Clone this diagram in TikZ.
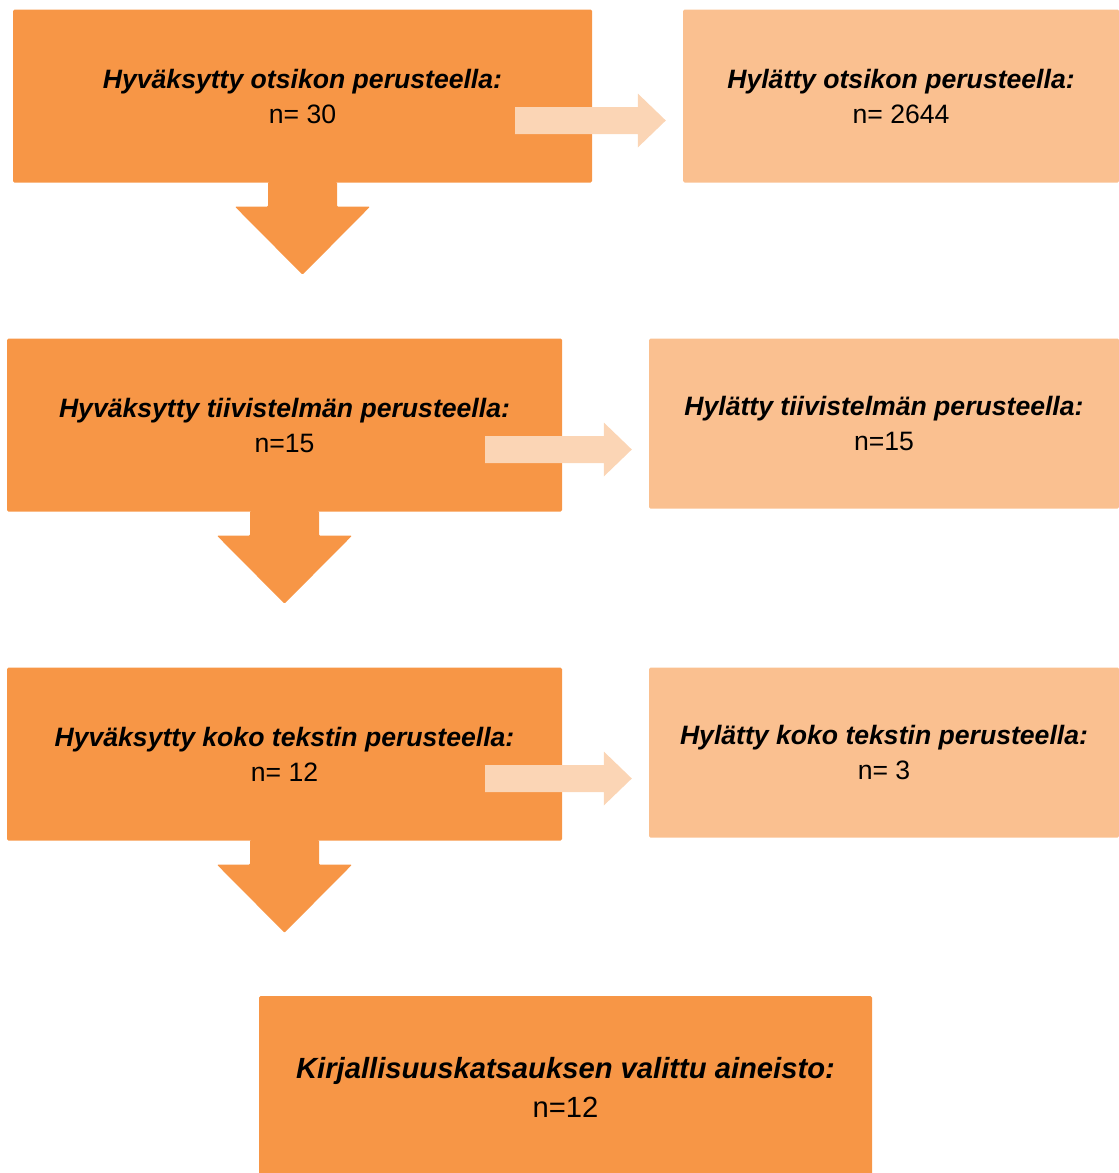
\documentclass[tikz,border=0pt]{standalone}
\usepackage{fontspec}
\setmainfont{Liberation Sans}
\usetikzlibrary{calc}
\definecolor{darkor}{HTML}{F79646}
\definecolor{lightor}{HTML}{FAC090}
\definecolor{paleor}{HTML}{FBD5B5}
\tikzset{
  box/.style={fill=darkor, rounded corners=1.5pt, inner sep=0pt, align=center,
    font=\fontsize{26.6}{35}\selectfont},
  rbox/.style={box, fill=lightor},
  finbox/.style={box, font=\fontsize{29.2}{39}\selectfont},
  downblk/.style={fill=darkor, rounded corners=1pt},
  sideblk/.style={fill=paleor},
}
\newcommand\downblock[1]{%
  \coordinate (s#1) at (#1.south);
  \fill[downblk] ($(s#1)+(-34.5,0.5)$) -- ($(s#1)+(-34.5,-24)$) -- ($(s#1)+(-67.5,-24)$)
    -- ($(s#1)+(0,-92)$) -- ($(s#1)+(67.5,-24)$) -- ($(s#1)+(34.5,-24)$)
    -- ($(s#1)+(34.5,0.5)$) -- cycle;}
\newcommand\sidearrow[2]{%
  \coordinate (a#1) at ($(#1.east)+(-77,-24.5)$);
  \coordinate (b#1) at ($(#2.west |- a#1)+(-17,0)$);
  \fill[sideblk] ($(a#1)+(0,13.5)$) -- ($(b#1)+(-28,13.5)$) -- ($(b#1)+(-28,27)$)
    -- (b#1) -- ($(b#1)+(-28,-27)$) -- ($(b#1)+(-28,-13.5)$)
    -- ($(a#1)+(0,-13.5)$) -- cycle;}
\begin{document}
\begin{tikzpicture}[x=1pt,y=1pt]
\useasboundingbox (0,0) rectangle (1119,-1173);
\node[box, minimum width=579, minimum height=173] (l1) at (302.5,-96)
  {\textbf{\textit{Hyväksytty otsikon perusteella:}}\\n= 30};
\node[rbox, minimum width=436, minimum height=173] (r1) at (901,-96)
  {\textbf{\textit{Hylätty otsikon perusteella:}}\\n= 2644};
\node[box, minimum width=555, minimum height=173] (l2) at (284.5,-425)
  {\textbf{\textit{Hyväksytty tiivistelmän perusteella:}}\\n=15};
\node[rbox, minimum width=470, minimum height=170] (r2) at (884,-423.5)
  {\textbf{\textit{Hylätty tiivistelmän perusteella:}}\\n=15};
\node[box, minimum width=555, minimum height=173] (l3) at (284.5,-754)
  {\textbf{\textit{Hyväksytty koko tekstin perusteella:}}\\n= 12};
\node[rbox, minimum width=470, minimum height=170] (r3) at (884,-752.5)
  {\textbf{\textit{Hylätty koko tekstin perusteella:}}\\n= 3};
\node[finbox, minimum width=613, minimum height=183] (fin) at (565.5,-1087.5)
  {\textbf{\textit{Kirjallisuuskatsauksen valittu aineisto:}}\\n=12};
\downblock{l1}
\downblock{l2}
\downblock{l3}
\sidearrow{l1}{r1}
\sidearrow{l2}{r2}
\sidearrow{l3}{r3}
\end{tikzpicture}
\end{document}
